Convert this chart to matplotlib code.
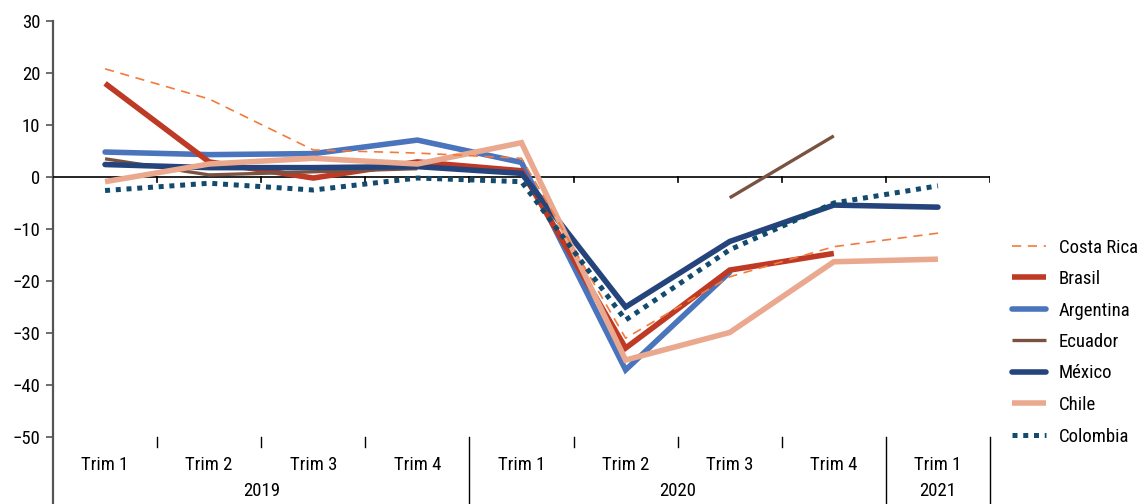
import numpy as np
import matplotlib
matplotlib.use("Agg")
import matplotlib.pyplot as plt
from matplotlib import font_manager as fm
from matplotlib.transforms import blended_transform_factory

available = {f.name for f in fm.fontManager.ttflist}
fam = [f for f in ['Liberation Sans Narrow', 'Roboto Condensed', 'DejaVu Sans'] if f in available] or ['DejaVu Sans']
plt.rcParams['font.family'] = fam

nan = np.nan
quarters = ["Trim 1", "Trim 2", "Trim 3", "Trim 4", "Trim 1", "Trim 2", "Trim 3", "Trim 4", "Trim 1"]
years = ["2019", "2020", "2021"]
year_counts = [4, 4, 1]

costa_rica = [20.8, 15.0, 5.2, 4.6, 3.6, -31.0, -19.2, -13.4, -10.8]
brasil     = [18.0, 2.9, -0.2, 2.9, 1.2, -32.9, -17.9, -14.7, nan]
argentina  = [4.8, 4.3, 4.5, 7.1, 2.8, -37.1, -18.3, nan, nan]
ecuador    = [3.5, 0.4, 1.0, 1.6, nan, nan, -4.0, 7.9, nan]
mexico     = [2.4, 1.8, 1.8, 2.0, 0.7, -25.0, -12.4, -5.4, -5.8]
chile      = [-0.9, 2.5, 3.6, 2.5, 6.6, -35.2, -29.9, -16.3, -15.8]
colombia   = [-2.6, -1.2, -2.5, -0.2, -0.9, -27.5, -14.0, -5.0, -1.7]

fig = plt.figure(figsize=(11.41, 5.04), dpi=100)
ax = fig.add_axes([53/1141, 1-437/504, (990-53)/1141, (437-21)/504])

x = np.arange(len(quarters))

h_cr, = ax.plot(x, costa_rica, color='#F47A3C', lw=1.2, ls=(0, (5.5, 4.0)), zorder=6, label='Costa Rica')
h_ar, = ax.plot(x, argentina, color='#4A74BC', lw=4.0, solid_capstyle='round', solid_joinstyle='miter', zorder=2, label='Argentina')
h_br, = ax.plot(x, brasil, color='#BE3A25', lw=4.0, solid_capstyle='butt', solid_joinstyle='miter', zorder=3, label='Brasil')
h_ec, = ax.plot(x, ecuador, color='#7A5241', lw=2.4, solid_capstyle='butt', zorder=3.5, label='Ecuador')
h_mx, = ax.plot(x, mexico, color='#25447C', lw=4.0, solid_capstyle='round', solid_joinstyle='miter', zorder=4, label='México')
h_ch, = ax.plot(x, chile, color='#EAA98E', lw=4.0, solid_capstyle='butt', solid_joinstyle='miter', zorder=5, label='Chile')
h_co, = ax.plot(x, colombia, color='#124B6D', lw=3.6, ls=(0, (1.0, 1.15)), dash_capstyle='butt', zorder=7, label='Colombia')

ax.set_xlim(-0.5, len(quarters) - 0.5)
ax.set_ylim(-50, 30)
ax.set_yticks(np.arange(-50, 31, 10))
ax.tick_params(axis='y', length=5, width=1.2, color='#555555', labelsize=13.5, pad=4)
ax.set_xticks([])

for s in ['top', 'right', 'bottom', 'left']:
    ax.spines[s].set_visible(False)

# left axis line extending below the plot
ax.plot([0, 0], [1, -0.17], transform=ax.transAxes, color='#555555', lw=1.6, clip_on=False, zorder=1)

# zero line with ticks at category boundaries
ax.axhline(0, color='black', lw=1.2, zorder=1)
for b in np.arange(0.5, len(quarters) - 0.5 + 1e-9, 1.0):
    ax.plot([b, b], [0, -1.0], color='black', lw=1.2, zorder=1)

trans = blended_transform_factory(ax.transData, ax.transAxes)
# category labels
for i, q in enumerate(quarters):
    ax.text(i, -0.068, q, transform=trans, ha='center', va='center', fontsize=13.5)
# year labels and separators
start = 0
bounds = [-0.5]
for yr, c in zip(years, year_counts):
    ax.text(start + (c - 1) / 2, -0.13, yr, transform=trans, ha='center', va='center', fontsize=13.5)
    start += c
    bounds.append(start - 0.5)
for b in bounds[1:]:
    ax.plot([b, b], [0, -0.17], transform=trans, color='black', lw=1.0, clip_on=False)
year_bounds = set(bounds)
for b in np.arange(0.5, len(quarters) - 0.5, 1.0):
    if b not in year_bounds:
        ax.plot([b, b], [0, -0.025], transform=trans, color='black', lw=1.0, clip_on=False)

handles = [h_cr, h_br, h_ar, h_ec, h_mx, h_ch, h_co]
leg = fig.legend(handles=handles, labels=[h.get_label() for h in handles],
                 loc='center left', bbox_to_anchor=(1012/1141, 1-342/504),
                 frameon=False, fontsize=13.5, handlelength=1.8, handletextpad=0.7,
                 labelspacing=0.72, borderaxespad=0, borderpad=0)

fig.savefig('out.png', dpi=100)
